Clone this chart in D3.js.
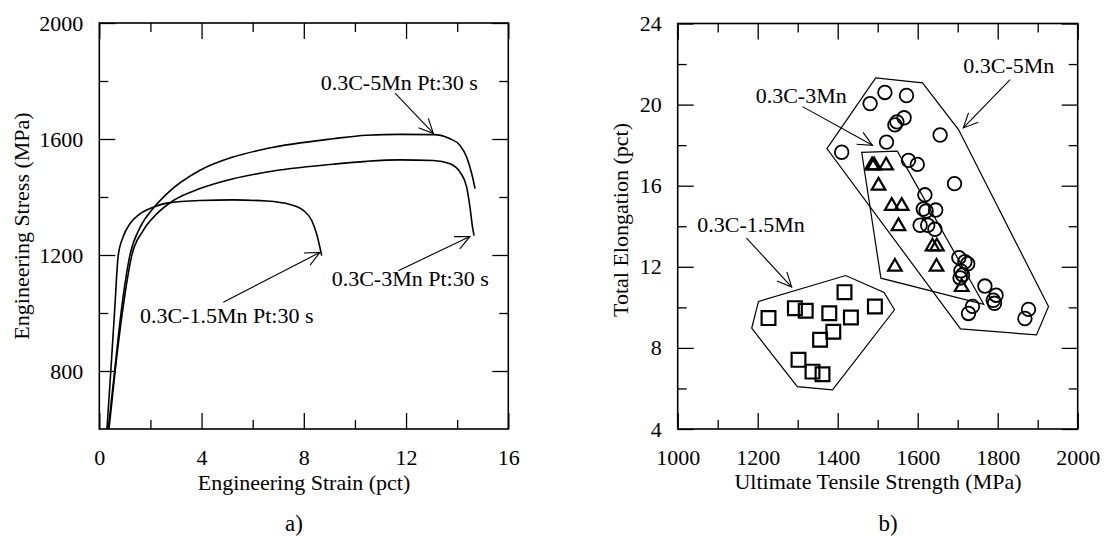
<!DOCTYPE html>
<html>
<head>
<meta charset="utf-8">
<script src="https://cdn.jsdelivr.net/npm/d3@7"></script>
<style>
  body { margin: 0; background: #fff; }
  svg { display: block; }
  text { font-family: "Liberation Serif", "Times New Roman", serif; fill: #000; }
</style>
</head>
<body>
<svg id="chart" width="1118" height="538"></svg>
<script>
// ---- panel a) : stress-strain curves
const strain15 = [0.30, 0.45, 0.60, 0.74, 0.93, 1.20, 1.59, 2.11, 2.64, 3.94, 5.24, 6.55, 7.46, 7.98, 8.31, 8.50, 8.70];
const stress15 = [600, 800, 1008, 1198, 1262, 1308, 1342, 1365, 1379, 1388, 1390, 1386, 1374, 1354, 1319, 1273, 1198];

const strain3 = [0.38, 0.62, 0.90, 1.27, 1.72, 2.25, 2.90, 3.94, 5.24, 6.55, 9.15, 10.46, 11.76, 13.07, 13.72, 14.11, 14.37, 14.50, 14.60, 14.66];
const stress3 = [600, 800, 1000, 1198, 1285, 1342, 1388, 1429, 1463, 1486, 1513, 1523, 1528, 1526, 1515, 1486, 1435, 1365, 1296, 1267];

const strain5 = [0.35, 0.60, 0.85, 1.20, 1.60, 2.10, 2.64, 3.94, 5.24, 6.55, 9.15, 10.46, 11.76, 13.07, 13.72, 14.11, 14.37, 14.57, 14.70];
const stress5 = [600, 800, 1000, 1200, 1296, 1360, 1411, 1492, 1538, 1567, 1601, 1613, 1616, 1615, 1601, 1578, 1538, 1480, 1429];

const strainTicks = [0, 4, 8, 12, 16];
const strainMinor = [2, 6, 10, 14];
const stressTicks = [800, 1200, 1600, 2000];
const stressMinor = [1000, 1400, 1800];

// labels: text position [strain, stress], arrow from -> to
const labelsA = ["0.3C-5Mn Pt:30 s", "0.3C-3Mn Pt:30 s", "0.3C-1.5Mn Pt:30 s"];
const labelPosA = [[8.66, 1768], [9.09, 1094], [1.59, 967]];
const arrowFromA = [[11.57, 1758], [11.70, 1146], [4.85, 1037]];
const arrowToA = [[13.07, 1619], [14.50, 1264], [8.63, 1209]];

// ---- panel b) : UTS vs total elongation
const utsSquare = [1227, 1293, 1320, 1379, 1417, 1433, 1493, 1389, 1356, 1302, 1337, 1362];
const elSquare  = [9.47, 9.96, 9.83, 9.71, 10.75, 9.5, 10.04, 8.8, 8.4, 7.41, 6.83, 6.7];

const utsTriangle = [1486, 1491, 1521, 1502, 1535, 1560, 1552, 1637, 1648, 1543, 1647, 1710];
const elTriangle  = [17.0, 17.0, 17.0, 16.0, 15.0, 15.0, 14.0, 13.0, 13.0, 12.0, 12.0, 11.0];

const utsCircle = [1410, 1481, 1518, 1572, 1543, 1548, 1566, 1522, 1577, 1599, 1656, 1692, 1618, 1614, 1621, 1645,
                   1606, 1625, 1643, 1703, 1718, 1725, 1708, 1712, 1706, 1768, 1796, 1789, 1792, 1737, 1727, 1877, 1868];
const elCircle  = [17.65, 20.05, 20.6, 20.45, 19.0, 19.15, 19.35, 18.15, 17.25, 17.05, 18.5, 16.1, 15.55, 14.85, 14.75, 14.8,
                   14.05, 14.05, 13.85, 12.45, 12.25, 12.15, 11.8, 11.6, 11.45, 11.05, 10.6, 10.35, 10.2, 10.05, 9.7, 9.9, 9.45];

const hull15 = [[1202, 10.29], [1185, 8.97], [1299, 6.09], [1387, 5.93], [1542, 9.88], [1516, 10.73], [1420, 11.57]];
const hull3  = [[1460, 17.64], [1549, 17.70], [1765, 10.15], [1508, 11.44]];
const hull5  = [[1373, 17.83], [1495, 21.32], [1612, 21.07], [1702, 18.77], [1927, 10.04], [1897, 8.64], [1707, 8.94]];

const utsTicks = [1000, 1200, 1400, 1600, 1800, 2000];
const utsMinor = [1100, 1300, 1500, 1700, 1900];
const elTicks = [4, 8, 12, 16, 20, 24];
const elMinor = [6, 10, 14, 18, 22];

const labelsB = ["0.3C-3Mn", "0.3C-5Mn", "0.3C-1.5Mn"];
const labelPosB = [[1195, 20.1], [1714, 21.57], [1049, 13.74]];
const arrowFromB = [[1312, 19.9], [1831, 21.23], [1172, 13.42]];
const arrowToB = [[1487, 17.99], [1714, 18.85], [1285, 11.0]];

const svg = d3.select("#chart");
const fontSize = 22;

const xA = d3.scaleLinear().domain([0, 16]).range([99.3, 508.3]);
const yA = d3.scaleLinear().domain([600, 2000]).range([429, 23]);
const xB = d3.scaleLinear().domain([1000, 2000]).range([677.7, 1077.7]);
const yB = d3.scaleLinear().domain([4, 24]).range([429, 23.5]);

// frame with inward ticks on all four sides
function drawAxes(x, y, xMajor, xMinor, yMajor, yMinor, xFmt, yFmt) {
  const [x0, x1] = x.range();
  const [y0, y1] = y.range();
  const g = svg.append("g");

  const put = (axis, tx, ty) => {
    const a = g.append("g")
      .attr("transform", `translate(${tx},${ty})`)
      .call(axis)
      .attr("font-family", null)
      .attr("font-size", fontSize);
    a.select(".domain").remove();
    a.selectAll("line").attr("stroke-width", 1.3);
    return a;
  };

  put(d3.axisBottom(x).tickValues(xMajor).tickSize(-16).tickPadding(20).tickFormat(xFmt), 0, y0);
  put(d3.axisBottom(x).tickValues(xMinor).tickSize(-9).tickFormat(""), 0, y0);
  put(d3.axisTop(x).tickValues(xMajor).tickSize(-16).tickFormat(""), 0, y1);
  put(d3.axisTop(x).tickValues(xMinor).tickSize(-9).tickFormat(""), 0, y1);
  put(d3.axisLeft(y).tickValues(yMajor).tickSize(-16).tickPadding(16).tickFormat(yFmt), x0, 0);
  put(d3.axisLeft(y).tickValues(yMinor).tickSize(-9).tickFormat(""), x0, 0);
  put(d3.axisRight(y).tickValues(yMajor).tickSize(-16).tickFormat(""), x1, 0);
  put(d3.axisRight(y).tickValues(yMinor).tickSize(-9).tickFormat(""), x1, 0);

  g.append("rect")
    .attr("x", x0).attr("y", y1)
    .attr("width", x1 - x0).attr("height", y0 - y1)
    .attr("fill", "none").attr("stroke", "#000").attr("stroke-width", 1.6);
}

function arrow(p0, p1) {
  const g = svg.append("g").attr("stroke", "#000").attr("stroke-width", 1.1).attr("fill", "none");
  g.append("line").attr("x1", p0[0]).attr("y1", p0[1]).attr("x2", p1[0]).attr("y2", p1[1]);
  const ang = Math.atan2(p1[1] - p0[1], p1[0] - p0[0]);
  const len = 16, spread = 25 * Math.PI / 180;
  const wing = s => [p1[0] - len * Math.cos(ang + s), p1[1] - len * Math.sin(ang + s)];
  g.append("path").attr("d", d3.line()([wing(spread), p1, wing(-spread)]));
}

// ---------- panel a
drawAxes(xA, yA, strainTicks, strainMinor, stressTicks, stressMinor, d3.format("d"), d3.format("d"));

const curve = d3.line()
  .x(d => xA(d[0]))
  .y(d => yA(d[1]))
  .curve(d3.curveMonotoneX);

[[strain15, stress15], [strain3, stress3], [strain5, stress5]].forEach(([sx, sy]) => {
  svg.append("path")
    .attr("d", curve(sx.map((v, i) => [v, sy[i]])))
    .attr("fill", "none")
    .attr("stroke", "#000")
    .attr("stroke-width", 1.6);
});

labelsA.forEach((t, i) => {
  svg.append("text")
    .attr("x", xA(labelPosA[i][0])).attr("y", yA(labelPosA[i][1]))
    .attr("font-size", fontSize).text(t);
  arrow([xA(arrowFromA[i][0]), yA(arrowFromA[i][1])], [xA(arrowToA[i][0]), yA(arrowToA[i][1])]);
});

svg.append("text").attr("x", 304).attr("y", 490).attr("text-anchor", "middle")
  .attr("font-size", fontSize).text("Engineering Strain (pct)");
svg.append("text").attr("transform", "translate(29,226) rotate(-90)").attr("text-anchor", "middle")
  .attr("font-size", fontSize).text("Engineering Stress (MPa)");
svg.append("text").attr("x", 294).attr("y", 531).attr("text-anchor", "middle")
  .attr("font-size", 23).text("a)");

// ---------- panel b
drawAxes(xB, yB, utsTicks, utsMinor, elTicks, elMinor, d3.format("d"), d3.format("d"));

const hullLine = d3.line()
  .x(d => xB(d[0]))
  .y(d => yB(d[1]))
  .curve(d3.curveLinearClosed);

[hull15, hull3, hull5].forEach(h => {
  svg.append("path")
    .attr("d", hullLine(h))
    .attr("fill", "none")
    .attr("stroke", "#000")
    .attr("stroke-width", 1.2);
});

svg.append("g").selectAll("path")
  .data(utsSquare.map((v, i) => [v, elSquare[i]]))
  .join("path")
  .attr("transform", d => `translate(${xB(d[0])},${yB(d[1])})`)
  .attr("d", d3.symbol(d3.symbolSquare, 190))
  .attr("fill", "none").attr("stroke", "#000").attr("stroke-width", 2.2);

svg.append("g").selectAll("path")
  .data(utsTriangle.map((v, i) => [v, elTriangle[i]]))
  .join("path")
  .attr("transform", d => `translate(${xB(d[0])},${yB(d[1])})`)
  .attr("d", d3.symbol(d3.symbolTriangle, 80))
  .attr("fill", "none").attr("stroke", "#000").attr("stroke-width", 2.2);

svg.append("g").selectAll("circle")
  .data(utsCircle.map((v, i) => [v, elCircle[i]]))
  .join("circle")
  .attr("cx", d => xB(d[0])).attr("cy", d => yB(d[1]))
  .attr("r", 6.8)
  .attr("fill", "none").attr("stroke", "#000").attr("stroke-width", 1.8);

labelsB.forEach((t, i) => {
  svg.append("text")
    .attr("x", xB(labelPosB[i][0])).attr("y", yB(labelPosB[i][1]))
    .attr("font-size", fontSize).text(t);
  arrow([xB(arrowFromB[i][0]), yB(arrowFromB[i][1])], [xB(arrowToB[i][0]), yB(arrowToB[i][1])]);
});

svg.append("text").attr("x", 878).attr("y", 489).attr("text-anchor", "middle")
  .attr("font-size", fontSize).text("Ultimate Tensile Strength (MPa)");
svg.append("text").attr("transform", "translate(628,220) rotate(-90)").attr("text-anchor", "middle")
  .attr("font-size", fontSize).text("Total Elongation (pct)");
svg.append("text").attr("x", 888).attr("y", 531).attr("text-anchor", "middle")
  .attr("font-size", 23).text("b)");
</script>
</body>
</html>
